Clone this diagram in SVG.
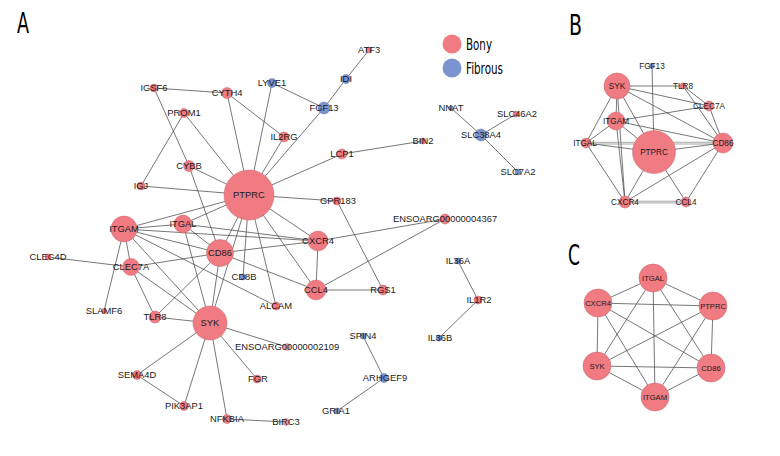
<svg xmlns="http://www.w3.org/2000/svg" width="780" height="456" viewBox="0 0 780 456">
<style>
.e{stroke:#4a4a4a;stroke-width:0.75;fill:none}
.e2{stroke:#8a8a8a;stroke-width:0.75;fill:none}
.r{fill:#f07b82;stroke:#c9636a;stroke-width:0.5}
.rl{fill:#f29aa0;stroke:#d08088;stroke-width:0.5}
.b{fill:#7b93cf;stroke:#6077b3;stroke-width:0.5}
text{font-family:"Liberation Sans",Arial,sans-serif;fill:#1a1a1a;text-anchor:middle}
.l{font-size:9.4px}
.lb{font-size:8.2px}
.lc{font-size:7.6px}
.p{font-family:"Liberation Sans Narrow","DejaVu Sans Condensed","Liberation Sans",sans-serif;text-anchor:start;fill:#000}
</style>
<rect width="780" height="456" fill="#fff"/>
<text class="p" x="17" y="33" font-size="29" textLength="12" lengthAdjust="spacingAndGlyphs">A</text>
<text class="p" x="569" y="35" font-size="29" textLength="13" lengthAdjust="spacingAndGlyphs">B</text>
<text class="p" x="568" y="265" font-size="29" textLength="12" lengthAdjust="spacingAndGlyphs">C</text>
<g id="legend">
<circle cx="452" cy="44" r="9.5" fill="#f07b82"/>
<text class="p" x="466" y="50" font-size="16.5" textLength="26" lengthAdjust="spacingAndGlyphs">Bony</text>
<circle cx="452" cy="68" r="9.5" fill="#7b93cf"/>
<text class="p" x="466" y="74" font-size="16.5" textLength="37" lengthAdjust="spacingAndGlyphs">Fibrous</text>
</g>
<g id="connectors">
<!-- panel A -->
<line class="e" x1="154" y1="88" x2="227" y2="93"/>
<line class="e" x1="154" y1="88" x2="189" y2="166"/>
<line class="e" x1="184" y1="113" x2="141" y2="186"/>
<line class="e" x1="184" y1="113" x2="249" y2="195"/>
<line class="e" x1="227" y1="93" x2="249" y2="195"/>
<line class="e" x1="227" y1="93" x2="284" y2="137"/>
<line class="e" x1="272" y1="83" x2="249" y2="195"/>
<line class="e" x1="272" y1="83" x2="324" y2="108"/>
<line class="e" x1="324" y1="108" x2="346" y2="79"/>
<line class="e" x1="346" y1="79" x2="369" y2="50"/>
<line class="e" x1="324" y1="108" x2="249" y2="195"/>
<line class="e" x1="284" y1="137" x2="249" y2="195"/>
<line class="e" x1="342" y1="154" x2="249" y2="195"/>
<line class="e" x1="342" y1="154" x2="423" y2="141"/>
<line class="e" x1="189" y1="166" x2="249" y2="195"/>
<line class="e" x1="189" y1="166" x2="220" y2="253"/>
<line class="e" x1="141" y1="186" x2="249" y2="195"/>
<line class="e" x1="337" y1="201" x2="249" y2="195"/>
<line class="e" x1="337" y1="201" x2="383" y2="290"/>
<line class="e" x1="249" y1="195" x2="124" y2="229"/>
<line class="e" x1="249" y1="195" x2="183" y2="224"/>
<line class="e" x1="249" y1="195" x2="220" y2="253"/>
<line class="e" x1="249" y1="195" x2="318" y2="241"/>
<line class="e" x1="249" y1="195" x2="316" y2="290"/>
<line class="e" x1="249" y1="195" x2="243" y2="277"/>
<line class="e" x1="249" y1="195" x2="276" y2="306"/>
<line class="e" x1="249" y1="195" x2="210" y2="323"/>
<line class="e" x1="124" y1="229" x2="183" y2="224"/>
<line class="e" x1="124" y1="229" x2="318" y2="241"/>
<line class="e" x1="124" y1="229" x2="220" y2="253"/>
<line class="e" x1="124" y1="229" x2="276" y2="306"/>
<line class="e" x1="124" y1="229" x2="210" y2="323"/>
<line class="e" x1="124" y1="229" x2="131" y2="267"/>
<line class="e" x1="124" y1="229" x2="104" y2="311"/>
<line class="e" x1="183" y1="224" x2="318" y2="241"/>
<line class="e" x1="183" y1="224" x2="220" y2="253"/>
<line class="e" x1="183" y1="224" x2="210" y2="323"/>
<line class="e" x1="220" y1="253" x2="318" y2="241"/>
<line class="e" x1="220" y1="253" x2="316" y2="290"/>
<line class="e" x1="220" y1="253" x2="131" y2="267"/>
<line class="e" x1="220" y1="253" x2="155" y2="317"/>
<line class="e" x1="220" y1="253" x2="210" y2="323"/>
<line class="e" x1="318" y1="241" x2="316" y2="290"/>
<line class="e" x1="318" y1="241" x2="445" y2="219"/>
<line class="e" x1="316" y1="290" x2="445" y2="219"/>
<line class="e" x1="316" y1="290" x2="383" y2="290"/>
<line class="e" x1="48" y1="257" x2="131" y2="267"/>
<line class="e" x1="131" y1="267" x2="155" y2="317"/>
<line class="e" x1="131" y1="267" x2="210" y2="323"/>
<line class="e" x1="155" y1="317" x2="210" y2="323"/>
<line class="e" x1="210" y1="323" x2="137" y2="375"/>
<line class="e" x1="210" y1="323" x2="184" y2="406"/>
<line class="e" x1="210" y1="323" x2="227" y2="419"/>
<line class="e" x1="210" y1="323" x2="257" y2="379"/>
<line class="e" x1="210" y1="323" x2="287" y2="347"/>
<line class="e" x1="137" y1="375" x2="184" y2="406"/>
<line class="e" x1="227" y1="419" x2="286" y2="422"/>
<line class="e" x1="451" y1="108" x2="481" y2="135"/>
<line class="e" x1="516" y1="114" x2="481" y2="135"/>
<line class="e" x1="481" y1="135" x2="518" y2="172"/>
<line class="e" x1="458" y1="261" x2="478" y2="300"/>
<line class="e" x1="478" y1="300" x2="439" y2="338"/>
<line class="e" x1="363" y1="336" x2="384" y2="378"/>
<line class="e" x1="384" y1="378" x2="337" y2="411"/>
<!-- panel B -->
<line class="e" x1="652" y1="66" x2="654" y2="152"/>
<line class="e" x1="617" y1="86" x2="683" y2="86"/>
<line class="e" x1="617" y1="86" x2="709" y2="106"/>
<line class="e" x1="617" y1="86" x2="723" y2="143"/>
<line class="e" x1="617" y1="86" x2="616" y2="121"/>
<line class="e" x1="617" y1="86" x2="654" y2="152"/>
<line class="e" x1="617" y1="86" x2="586" y2="143"/>
<line class="e" x1="617" y1="86" x2="625" y2="202"/>
<line class="e" x1="683" y1="86" x2="709" y2="106"/>
<line class="e" x1="683" y1="86" x2="723" y2="143"/>
<line class="e" x1="709" y1="106" x2="723" y2="143"/>
<line class="e" x1="709" y1="106" x2="616" y2="121"/>
<line class="e" x1="616" y1="121" x2="723" y2="143"/>
<line class="e" x1="616" y1="121" x2="654" y2="152"/>
<line class="e" x1="616" y1="121" x2="586" y2="143"/>
<line class="e" x1="616" y1="121" x2="625" y2="202"/>
<line class="e2" x1="586" y1="142.3" x2="723" y2="142.3"/>
<line class="e2" x1="586" y1="144" x2="723" y2="144"/>
<line class="e" x1="586" y1="143" x2="654" y2="152"/>
<line class="e" x1="586" y1="143" x2="625" y2="202"/>
<line class="e" x1="654" y1="152" x2="723" y2="143"/>
<line class="e" x1="654" y1="152" x2="625" y2="202"/>
<line class="e" x1="654" y1="152" x2="686" y2="202"/>
<line class="e" x1="723" y1="143" x2="625" y2="202"/>
<line class="e" x1="723" y1="143" x2="686" y2="202"/>
<line class="e2" x1="625" y1="201.2" x2="686" y2="201.2"/>
<line class="e2" x1="625" y1="202.9" x2="686" y2="202.9"/>
<!-- panel C -->
<line class="e" x1="653" y1="278" x2="598" y2="303"/>
<line class="e" x1="653" y1="278" x2="713" y2="306"/>
<line class="e" x1="653" y1="278" x2="597" y2="366"/>
<line class="e" x1="653" y1="278" x2="711" y2="368"/>
<line class="e" x1="653" y1="278" x2="655" y2="397"/>
<line class="e" x1="598" y1="303" x2="713" y2="306"/>
<line class="e" x1="598" y1="303" x2="711" y2="368"/>
<line class="e" x1="598" y1="303" x2="655" y2="397"/>
<line class="e" x1="598" y1="303" x2="597" y2="366"/>
<line class="e" x1="713" y1="306" x2="597" y2="366"/>
<line class="e" x1="713" y1="306" x2="711" y2="368"/>
<line class="e" x1="713" y1="306" x2="655" y2="397"/>
<line class="e" x1="597" y1="366" x2="711" y2="368"/>
<line class="e" x1="597" y1="366" x2="655" y2="397"/>
<line class="e" x1="711" y1="368" x2="655" y2="397"/>
</g>
<!-- panel A nodes -->
<g id="A_IGSF6"><circle class="r" cx="154" cy="88" r="4"/><text class="l" x="154" y="91.3">IGSF6</text></g>
<g id="A_CYTH4"><circle class="r" cx="227" cy="93" r="5.5"/><text class="l" x="227" y="96.3">CYTH4</text></g>
<g id="A_PROM1"><circle class="r" cx="184" cy="113" r="4.5"/><text class="l" x="184" y="116.3">PROM1</text></g>
<g id="A_LYVE1"><circle class="b" cx="272" cy="83" r="4.5"/><text class="l" x="272" y="86.3">LYVE1</text></g>
<g id="A_ATF3"><circle class="r" cx="369" cy="50" r="3"/><text class="l" x="369" y="53.3">ATF3</text></g>
<g id="A_IDI"><circle class="b" cx="346" cy="79" r="4.5"/><text class="l" x="346" y="82.3">IDI</text></g>
<g id="A_FGF13"><circle class="b" cx="324" cy="108" r="6"/><text class="l" x="324" y="111.3">FGF13</text></g>
<g id="A_IL2RG"><circle class="r" cx="284" cy="137" r="5"/><text class="l" x="284" y="140.3">IL2RG</text></g>
<g id="A_LCP1"><circle class="r" cx="342" cy="154" r="5"/><text class="l" x="342" y="157.3">LCP1</text></g>
<g id="A_BIN2"><circle class="r" cx="423" cy="141" r="3"/><text class="l" x="423" y="144.3">BIN2</text></g>
<g id="A_NNAT"><circle class="b" cx="451" cy="108" r="2.5"/><text class="l" x="451" y="111.3">NNAT</text></g>
<g id="A_SLC46A2"><circle class="r" cx="516" cy="114" r="3"/><text class="l" x="517" y="117.3">SLC46A2</text></g>
<g id="A_SLC38A4"><circle class="b" cx="481" cy="135" r="6"/><text class="l" x="481" y="138.3">SLC38A4</text></g>
<g id="A_SLC7A2"><circle class="b" cx="518" cy="172" r="3"/><text class="l" x="518" y="175.3">SLC7A2</text></g>
<g id="A_CYBB"><circle class="r" cx="189" cy="166" r="5.5"/><text class="l" x="189" y="169.3">CYBB</text></g>
<g id="A_IGJ"><circle class="r" cx="141" cy="186" r="4"/><text class="l" x="141" y="189.3">IGJ</text></g>
<g id="A_PTPRC"><circle class="r" cx="249" cy="195" r="25"/><text class="l" x="249" y="198.3">PTPRC</text></g>
<g id="A_GPR183"><circle class="r" cx="337" cy="201" r="4"/><text class="l" x="338" y="204.3">GPR183</text></g>
<g id="A_ENSOARG00000004367"><circle class="r" cx="445" cy="219" r="5"/><text class="l" x="445" y="222.3">ENSOARG00000004367</text></g>
<g id="A_ITGAM"><circle class="r" cx="124" cy="229" r="13"/><text class="l" x="124" y="232.3">ITGAM</text></g>
<g id="A_ITGAL"><circle class="r" cx="183" cy="224" r="9"/><text class="l" x="183" y="227.3">ITGAL</text></g>
<g id="A_CD86"><circle class="r" cx="220" cy="253" r="13.5"/><text class="l" x="220" y="256.3">CD86</text></g>
<g id="A_CXCR4"><circle class="r" cx="318" cy="241" r="10"/><text class="l" x="318" y="244.3">CXCR4</text></g>
<g id="A_CLEC4D"><circle class="r" cx="48" cy="257" r="3"/><text class="l" x="48" y="260.3">CLEC4D</text></g>
<g id="A_CLEC7A"><circle class="r" cx="131" cy="267" r="8.5"/><text class="l" x="131" y="270.3">CLEC7A</text></g>
<g id="A_CD8B"><circle class="b" cx="243" cy="277" r="3"/><text class="l" x="244" y="280.3">CD8B</text></g>
<g id="A_CCL4"><circle class="r" cx="316" cy="290" r="10"/><text class="l" x="316" y="293.3">CCL4</text></g>
<g id="A_RGS1"><circle class="r" cx="383" cy="290" r="5"/><text class="l" x="383" y="293.3">RGS1</text></g>
<g id="A_ALCAM"><circle class="r" cx="276" cy="306" r="4"/><text class="l" x="276" y="309.3">ALCAM</text></g>
<g id="A_IL36A"><circle class="b" cx="458" cy="261" r="3"/><text class="l" x="458" y="264.3">IL36A</text></g>
<g id="A_IL1R2"><circle class="r" cx="478" cy="300" r="4"/><text class="l" x="479" y="303.3">IL1R2</text></g>
<g id="A_IL36B"><circle class="b" cx="439" cy="338" r="3"/><text class="l" x="440" y="341.3">IL36B</text></g>
<g id="A_SLAMF6"><circle class="r" cx="104" cy="311" r="2.5"/><text class="l" x="104" y="314.3">SLAMF6</text></g>
<g id="A_TLR8"><circle class="r" cx="155" cy="317" r="6"/><text class="l" x="155" y="320.3">TLR8</text></g>
<g id="A_SYK"><circle class="r" cx="210" cy="323" r="17"/><text class="l" x="210" y="326.3">SYK</text></g>
<g id="A_SPIN4"><circle class="b" cx="363" cy="336" r="3"/><text class="l" x="363" y="339.3">SPIN4</text></g>
<g id="A_ENSOARG00000002109"><circle class="rl" cx="287" cy="347" r="3.5"/><text class="l" x="287" y="350.3">ENSOARG00000002109</text></g>
<g id="A_SEMA4D"><circle class="r" cx="137" cy="375" r="4.5"/><text class="l" x="137" y="378.3">SEMA4D</text></g>
<g id="A_FGR"><circle class="r" cx="257" cy="379" r="4"/><text class="l" x="258" y="382.3">FGR</text></g>
<g id="A_ARHGEF9"><circle class="b" cx="384" cy="378" r="4.5"/><text class="l" x="385" y="381.3">ARHGEF9</text></g>
<g id="A_PIK3AP1"><circle class="r" cx="184" cy="406" r="4.5"/><text class="l" x="184" y="409.3">PIK3AP1</text></g>
<g id="A_GRIA1"><circle class="b" cx="337" cy="411" r="3"/><text class="l" x="336" y="414.3">GRIA1</text></g>
<g id="A_NFKBIA"><circle class="r" cx="227" cy="419" r="4.5"/><text class="l" x="227" y="422.3">NFKBIA</text></g>
<g id="A_BIRC3"><circle class="rl" cx="286" cy="422" r="3.5"/><text class="l" x="286" y="425.3">BIRC3</text></g>
<!-- panel B nodes -->
<g id="B_FGF13"><circle class="b" cx="652" cy="66" r="2.5"/><text class="lb" x="652" y="69">FGF13</text></g>
<g id="B_SYK"><circle class="r" cx="617" cy="86" r="13"/><text class="lb" x="617" y="89">SYK</text></g>
<g id="B_TLR8"><circle class="r" cx="683" cy="86" r="3"/><text class="lb" x="683" y="89">TLR8</text></g>
<g id="B_CLEC7A"><circle class="r" cx="709" cy="106" r="5"/><text class="lb" x="709" y="109">CLEC7A</text></g>
<g id="B_ITGAM"><circle class="r" cx="616" cy="121" r="9"/><text class="lb" x="616" y="124">ITGAM</text></g>
<g id="B_ITGAL"><circle class="r" cx="586" cy="143" r="5"/><text class="lb" x="585" y="146">ITGAL</text></g>
<g id="B_PTPRC"><circle class="r" cx="654" cy="152" r="21.5"/><text class="lb" x="654" y="155">PTPRC</text></g>
<g id="B_CD86"><circle class="r" cx="723" cy="143" r="10"/><text class="lb" x="723" y="146">CD86</text></g>
<g id="B_CXCR4"><circle class="r" cx="625" cy="202" r="6"/><text class="lb" x="625" y="205">CXCR4</text></g>
<g id="B_CCL4"><circle class="r" cx="686" cy="202" r="5"/><text class="lb" x="686" y="205">CCL4</text></g>
<!-- panel C nodes -->
<g id="C_ITGAL"><circle class="r" cx="653" cy="278" r="14"/><text class="lc" x="653" y="280.7">ITGAL</text></g>
<g id="C_CXCR4"><circle class="r" cx="598" cy="303" r="14"/><text class="lc" x="598" y="305.7">CXCR4</text></g>
<g id="C_PTPRC"><circle class="r" cx="713" cy="306" r="14"/><text class="lc" x="713" y="308.7">PTPRC</text></g>
<g id="C_SYK"><circle class="r" cx="597" cy="366" r="14"/><text class="lc" x="597" y="368.7">SYK</text></g>
<g id="C_CD86"><circle class="r" cx="711" cy="368" r="14"/><text class="lc" x="711" y="370.7">CD86</text></g>
<g id="C_ITGAM"><circle class="r" cx="655" cy="397" r="14"/><text class="lc" x="655" y="399.7">ITGAM</text></g>
</svg>
